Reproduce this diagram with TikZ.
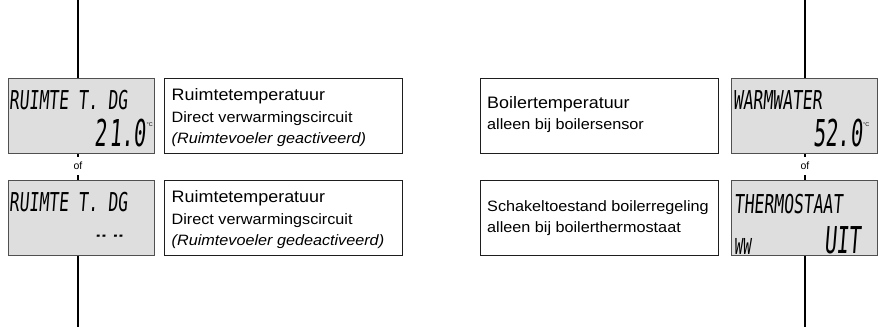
\documentclass[tikz,border=0pt]{standalone}
\usepackage{fontspec}
\setmainfont{Liberation Sans}[FakeStretch=1.08]
\newfontfamily\lcd{DejaVu Sans Mono}[FakeStretch=0.63,FakeSlant=0.08]
\newfontfamily\lcdbig{DejaVu Sans Mono}[FakeStretch=0.55,FakeSlant=0.08]
\newfontfamily\plainsf{Liberation Sans}
\definecolor{dispfill}{HTML}{DEDEDE}
\definecolor{dispborder}{HTML}{505050}
\definecolor{txtborder}{HTML}{1E1E1E}
\tikzset{
  disp/.style={draw=dispborder, fill=dispfill, line width=1.2pt, minimum width=146pt, minimum height=75pt, inner sep=0pt, anchor=north west},
  txtbox/.style={draw=txtborder, fill=white, line width=1pt, minimum width=238pt, minimum height=75pt, inner sep=0pt, anchor=north west},
  ttl/.style={anchor=base west, inner sep=0pt, font=\fontsize{16.6}{18}\selectfont},
  sub/.style={anchor=base west, inner sep=0pt, font=\fontsize{15}{17}\selectfont},
  subit/.style={anchor=base west, inner sep=0pt, font=\fontsize{15}{17}\selectfont\itshape},
  lcdrow/.style={anchor=base west, inner sep=0pt, font=\lcd\fontsize{26}{26}\selectfont},
  lcdnum/.style={anchor=base east, inner sep=0pt, font=\lcdbig\fontsize{37}{37}\selectfont},
  degc/.style={anchor=north west, inner sep=0pt, font=\plainsf\fontsize{5.5}{6}\selectfont},
  ofnode/.style={fill=white, inner xsep=1pt, inner ysep=0pt, minimum height=18pt, font=\plainsf\fontsize{10.5}{12}\selectfont},
  conn/.style={draw=black, line width=1.3pt}
}
\begin{document}
\begin{tikzpicture}[x=1pt,y=-1pt]
\useasboundingbox (0,0) rectangle (878,327);
% boxes
\node[disp] (dL1) at (8,78) {};
\node[disp] (dL2) at (8,180) {};
\node[txtbox] (tL1) at (164,78) {};
\node[txtbox] (tL2) at (164,180) {};
\node[txtbox] (tR1) at (480,78) {};
\node[txtbox] (tR2) at (480,180) {};
\node[disp] (dR1) at (731,78) {};
\node[disp] (dR2) at (731,180) {};
% connectors
\coordinate (Ltop) at (78,0);
\coordinate (Lbot) at (78,327);
\coordinate (Rtop) at (805,0);
\coordinate (Rbot) at (805,327);
\node[ofnode] (ofL) at (78,166) {of};
\node[ofnode] (ofR) at (805,166) {of};
\draw[conn] (Ltop) -- (Ltop |- dL1.north);
\draw[conn] (Ltop |- dL1.south) -- (ofL.north);
\draw[conn] (ofL.south) -- (Ltop |- dL2.north);
\draw[conn] (Ltop |- dL2.south) -- (Lbot);
\draw[conn] (Rtop) -- (Rtop |- dR1.north);
\draw[conn] (Rtop |- dR1.south) -- (ofR.north);
\draw[conn] (ofR.south) -- (Rtop |- dR2.north);
\draw[conn] (Rtop |- dR2.south) -- (Rbot);
% left texts
\node[ttl] (tL1a) at (171.5,100) {Ruimtetemperatuur};
\node[sub] (tL1b) at (171.5,122.3) {Direct verwarmingscircuit};
\node[subit] (tL1c) at (171.5,143.3) {(Ruimtevoeler geactiveerd)};
\node[ttl] (tL2a) at (171.5,202) {Ruimtetemperatuur};
\node[sub] (tL2b) at (171.5,224.3) {Direct verwarmingscircuit};
\node[subit] (tL2c) at (171.5,245.3) {(Ruimtevoeler gedeactiveerd)};
% right texts
\node[ttl] (tR1a) at (487,108.3) {Boilertemperatuur};
\node[sub] (tR1b) at (487,129) {alleen bij boilersensor};
\node[sub] (tR2a) at (487,211.5) {Schakeltoestand boilerregeling};
\node[sub] (tR2b) at (487,232) {alleen bij boilerthermostaat};
% displays
\node[lcdrow] (dL1a) at (9,109) {RUIMTE T. DG};
\node[lcdnum] (dL1b) at (146,146.7) {2\hspace{2pt}1.0};
\node[degc] (dL1c) at (146.5,122) {°C};
\node[lcdrow] (dL2a) at (9,211) {RUIMTE T. DG};
\node[anchor=base west, inner sep=0pt, font=\lcd\bfseries\fontsize{15}{15}\selectfont] (dL2b) at (95,240) {-{}- -{}-};
\node[lcdrow] (dR1a) at (733,109) {WARMWATER};
\node[lcdnum] (dR1b) at (862.5,146.7) {52.0};
\node[degc] (dR1c) at (863,122) {°C};
\node[lcdrow] (dR2a) at (734,213.3) {THERMOSTAAT};
\node[anchor=base west, inner sep=0pt, font=\lcd\fontsize{22}{22}\selectfont] (dR2b) at (734,254.5) {WW};
\node[lcdnum] (dR2c) at (861,253.3) {UIT};
\end{tikzpicture}
\end{document}
